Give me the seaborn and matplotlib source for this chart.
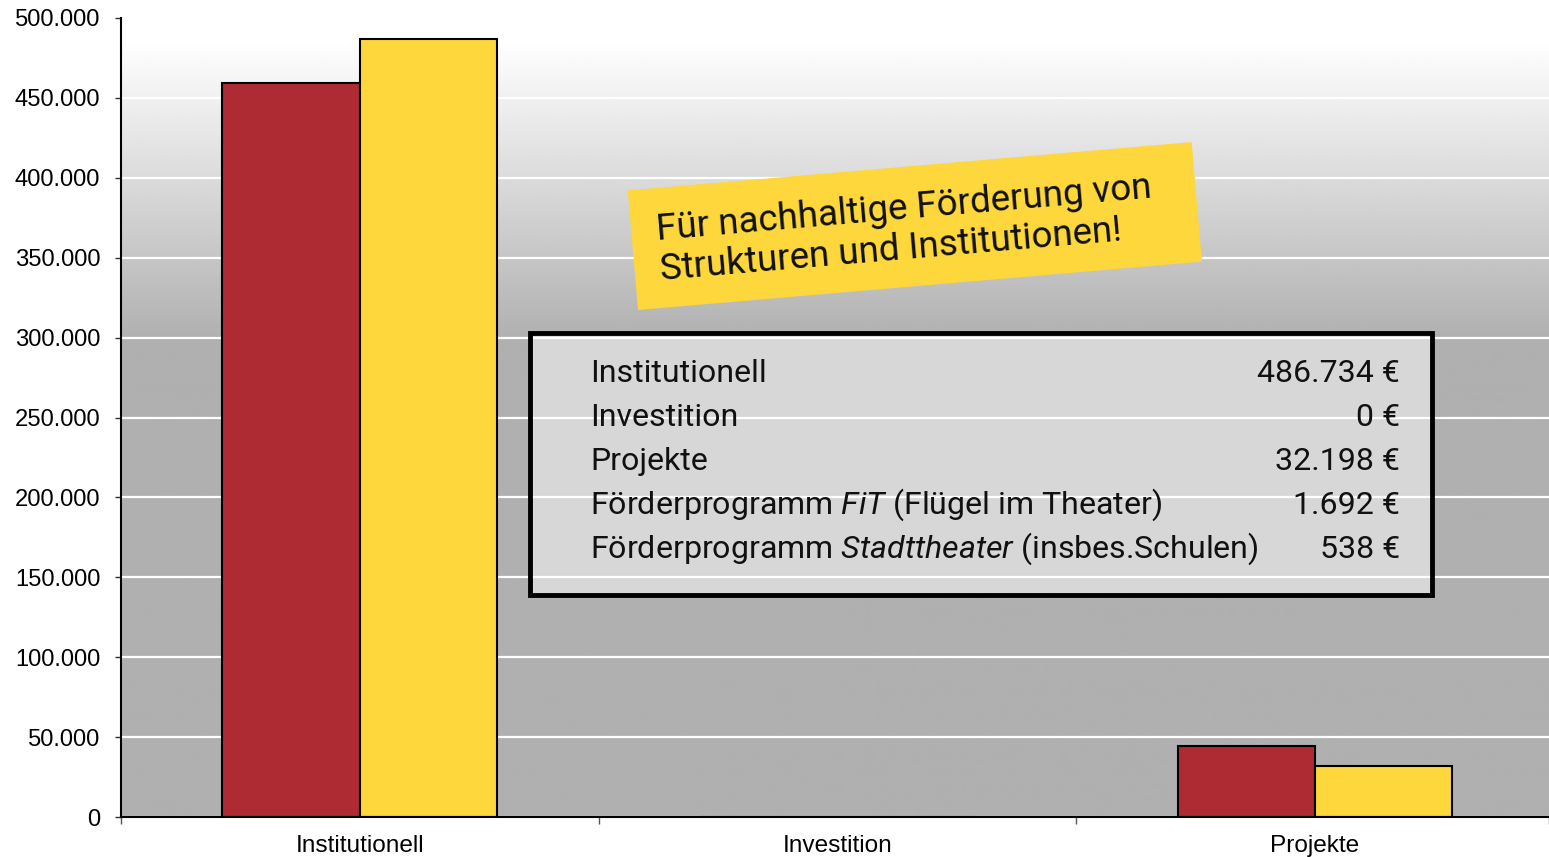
import numpy as np
import pandas as pd
import seaborn as sns
import matplotlib.pyplot as plt
from matplotlib.patches import Rectangle
from matplotlib.ticker import FuncFormatter, FixedLocator

# data
categories = ['Institutionell', 'Investition', 'Projekte']
series = ['Vorjahr', 'Aktuell']
values_prev = [459300, 0, 44400]
values_curr = [486734, 0, 32198]
colors = ['#ae2b34', '#fdd73b']

box_labels = ['Institutionell', 'Investition', 'Projekte',
              r'Förderprogramm $\mathit{FiT}$ (Flügel im Theater)',
              r'Förderprogramm $\mathit{Stadttheater}$ (insbes.Schulen)']
box_values = ['486.734 €', '0 €', '32.198 €', '1.692 €', '538 €']
banner_text = 'Für nachhaltige Förderung von\nStrukturen und Institutionen!'

df = pd.DataFrame({
    'Kategorie': categories * 2,
    'Reihe': [series[0]] * 3 + [series[1]] * 3,
    'Wert': values_prev + values_curr,
})

sns.set_style('ticks')
plt.rcParams['font.family'] = ['Liberation Sans', 'DejaVu Sans']
plt.rcParams['mathtext.fontset'] = 'custom'
plt.rcParams['mathtext.rm'] = 'Roboto'
plt.rcParams['mathtext.it'] = 'Roboto:italic'

W, H = 1549, 857
fig = plt.figure(figsize=(W / 100, H / 100), dpi=100)
ax = fig.add_axes([121 / W, 40 / H, 1 - 121 / W, (817 - 18) / H])

# gradient background: white at top fading into grey
f = np.linspace(0, 1, 400)
g = np.clip(0.69 + (f - 0.597) / (0.972 - 0.597) * 0.31, 0.69, 1.0)
ax.imshow(g[:, None], extent=[-0.5, 2.5, 0, 500000], origin='lower',
          aspect='auto', cmap='gray', vmin=0, vmax=1, zorder=0.1)

sns.barplot(data=df, x='Kategorie', y='Wert', hue='Reihe', palette=colors,
            width=0.575, saturation=1, errorbar=None, edgecolor='black',
            linewidth=1.5, legend=False, ax=ax, zorder=2)

ax.set_xlim(-0.5, 2.49)
ax.set_ylim(0, 500000)
ax.set_yticks(range(0, 500001, 50000))
ax.yaxis.set_major_formatter(FuncFormatter(lambda v, p: f'{int(v):,}'.replace(',', '.')))
ax.set_axisbelow(True)
ax.grid(axis='y', color='white', linewidth=1.6)
ax.grid(axis='x', visible=False)
ax.set_xlabel('')
ax.set_ylabel('')
ax.xaxis.set_minor_locator(FixedLocator([-0.5, 0.5, 1.5, 2.49]))
ax.tick_params(axis='x', which='major', length=0, pad=13, labelsize=17.6, labelcolor='black')
ax.tick_params(axis='x', which='minor', length=5, width=1, color='#555555', direction='out')
ax.tick_params(axis='y', length=4, width=1, color='#333333', pad=11, labelsize=17.1, labelcolor='black')
sns.despine(ax=ax)
for s in ['left', 'bottom']:
    ax.spines[s].set_color('black')
    ax.spines[s].set_linewidth(1.5)


def fx(x):
    return x / W


def fy(y):
    return 1 - y / H


# yellow slanted banner (pixel coordinates, rotated about its lower-left corner)
fig.add_artist(Rectangle((638, H - 310), 566, 120, angle=4.9, transform=None,
                         fc='#fdd73b', ec='none', zorder=6))
fig.text(fx(906), fy(229), banner_text, family='Roboto', fontsize=26.5,
         rotation=4.9, rotation_mode='anchor', ha='center', va='center',
         multialignment='left', linespacing=1.14, color='#111111', zorder=7)

# summary box
fig.add_artist(Rectangle((fx(530), fy(595)), fx(1432 - 530), (595 - 333) / H,
                         transform=fig.transFigure, fc=(1, 1, 1, 0.5),
                         ec='black', lw=3.5, zorder=5))
for i, (lab, val) in enumerate(zip(box_labels, box_values)):
    yb = fy(382 + 44 * i)
    fig.text(fx(590), yb, lab, family='Roboto', fontsize=23.1, va='baseline',
             ha='left', color='#111111', zorder=7)
    fig.text(fx(1400), yb, val, family='Roboto', fontsize=23.1, va='baseline',
             ha='right', color='#111111', zorder=7)

fig.savefig('out.png', dpi=100)
